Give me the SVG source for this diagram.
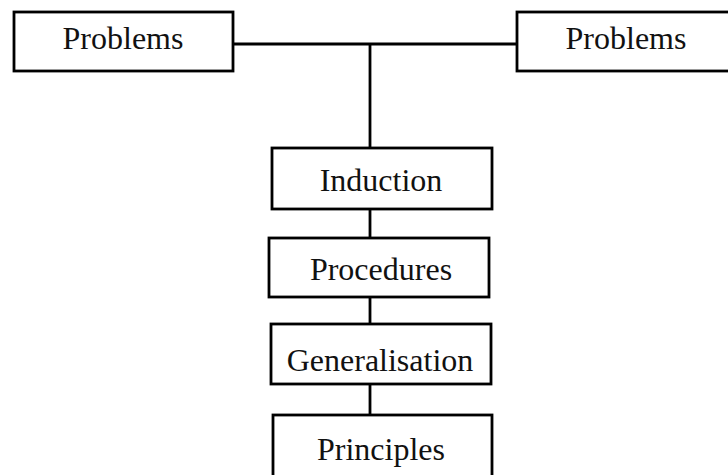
<svg xmlns="http://www.w3.org/2000/svg" width="728" height="475" viewBox="0 0 728 475">
<style>
.box{fill:#fff;stroke:#000;stroke-width:2.8}
.lbl{font-family:"Liberation Serif","Times New Roman",serif;font-size:32px;fill:#111;text-anchor:middle}
.conn{stroke:#000;stroke-width:2.8;fill:none}
</style>
<rect width="728" height="475" fill="#fff"/>
<g id="connectors">
<line class="conn" x1="233" y1="44" x2="517" y2="44"/>
<line class="conn" x1="370" y1="44" x2="370" y2="148"/>
<line class="conn" x1="370" y1="209" x2="370" y2="238"/>
<line class="conn" x1="370" y1="297" x2="370" y2="324"/>
<line class="conn" x1="370" y1="384" x2="370" y2="415"/>
</g>
<g id="problems-left">
<rect class="box" x="14" y="12" width="219" height="59"/>
<text class="lbl" x="123" y="49">Problems</text>
</g>
<g id="problems-right">
<rect class="box" x="517" y="12" width="220" height="59"/>
<text class="lbl" x="626" y="49">Problems</text>
</g>
<g id="induction">
<rect class="box" x="272" y="148" width="220" height="61"/>
<text class="lbl" x="381" y="191">Induction</text>
</g>
<g id="procedures">
<rect class="box" x="269" y="238" width="220" height="59"/>
<text class="lbl" x="381" y="280">Procedures</text>
</g>
<g id="generalisation">
<rect class="box" x="271" y="324" width="220" height="60"/>
<text class="lbl" x="380" y="371">Generalisation</text>
</g>
<g id="principles">
<rect class="box" x="273" y="415" width="219" height="70"/>
<text class="lbl" x="381" y="460">Principles</text>
</g>
</svg>
